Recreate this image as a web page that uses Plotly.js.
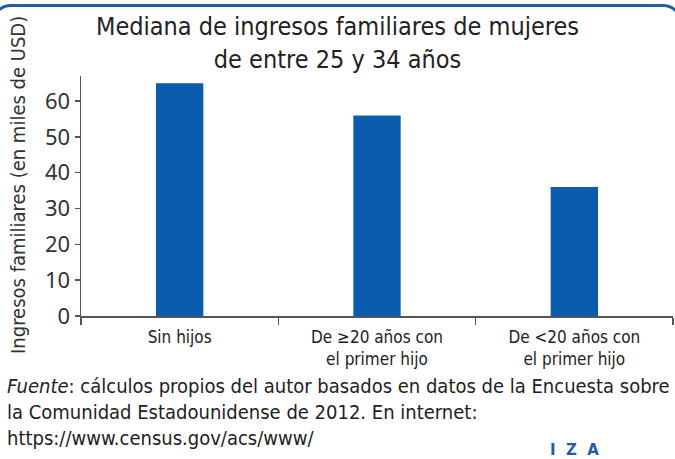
<!DOCTYPE html>
<html>
<head>
<meta charset="utf-8">
<script src="https://cdn.plot.ly/plotly-3.0.1.min.js"></script>
<style>
html,body{margin:0;padding:0;background:#fff;overflow:hidden;}
#wrap{position:relative;width:675px;height:459px;overflow:hidden;}
#frame{position:absolute;left:-9px;top:4px;width:692px;height:600px;border:3px solid #1f5ea8;border-radius:20px;pointer-events:none;box-sizing:border-box;}
#chart{position:absolute;left:0;top:0;width:675px;height:459px;}
</style>
</head>
<body>
<div id="wrap">
<div id="chart"></div>
<div id="frame"></div>
</div>
<script>
const categories = ["Sin hijos", "De ≥20 años con<br>el primer hijo", "De <20 años con<br>el primer hijo"];
const values = [65, 56, 36];
const yTicks = [0, 10, 20, 30, 40, 50, 60];

const narrow = '"Liberation Sans Narrow", "DejaVu Sans Condensed", Arial, sans-serif';
const plain = '"Noto Sans", "Open Sans", Arial, sans-serif';

const trace = {
  type: 'bar',
  x: categories,
  y: values,
  marker: {color: '#0a5cac'},
  hoverinfo: 'skip'
};

const layout = {
  width: 675, height: 459,
  margin: {l: 81, r: 2, t: 76, b: 143},
  paper_bgcolor: '#fff', plot_bgcolor: '#fff',
  bargap: 0.76,
  showlegend: false,
  xaxis: {
    type: 'category',
    showline: true, linecolor: '#555', linewidth: 1.5,
    ticks: 'outside', ticklen: 7, tickcolor: '#555', tickwidth: 1.5,
    tickson: 'boundaries',
    ticklabelstandoff: 5,
    tickfont: {family: narrow, size: 17, color: '#222'},
    showgrid: false, zeroline: false, fixedrange: true
  },
  yaxis: {
    range: [0, 67],
    tickvals: yTicks,
    showline: true, linecolor: '#555', linewidth: 1.5,
    ticks: 'outside', ticklen: 5, tickcolor: '#555', tickwidth: 1.5,
    tickfont: {family: plain, size: 22, color: '#333'},
    showgrid: false, zeroline: false, fixedrange: true
  },
  annotations: [
    {
      xref: 'paper', yref: 'paper',
      x: (337 - 81) / 592, y: (316 - 10) / 240,
      xanchor: 'center', yanchor: 'top', align: 'center',
      showarrow: false,
      font: {family: narrow, size: 25, color: '#222'},
      text: 'Mediana de ingresos familiares de mujeres<br>de entre 25 y 34 años'
    },
    {
      xref: 'paper', yref: 'paper',
      x: (18 - 81) / 592, y: (316 - 185) / 240,
      xanchor: 'center', yanchor: 'middle', textangle: -90,
      showarrow: false,
      font: {family: narrow, size: 20, color: '#333'},
      text: 'Ingresos familiares (en miles de USD)'
    },
    {
      xref: 'paper', yref: 'paper',
      x: (5 - 81) / 592, y: (316 - 372) / 240,
      xanchor: 'left', yanchor: 'top', align: 'left',
      showarrow: false,
      font: {family: narrow, size: 20, color: '#222'},
      text: '<i>Fuente</i>: cálculos propios del autor basados en datos de la Encuesta sobre<br>la Comunidad Estadounidense de 2012. En internet:<br>https://www.census.gov/acs/www/'
    },
    {
      xref: 'paper', yref: 'paper',
      x: (574 - 81) / 592, y: (316 - 450) / 240,
      xanchor: 'center', yanchor: 'middle',
      showarrow: false,
      font: {family: '"DejaVu Sans", Arial, sans-serif', size: 15, color: '#1f5ea8'},
      text: '<b>I  Z  A</b>'
    }
  ]
};

Plotly.newPlot('chart', [trace], layout, {displayModeBar: false, staticPlot: true});
</script>
</body>
</html>
